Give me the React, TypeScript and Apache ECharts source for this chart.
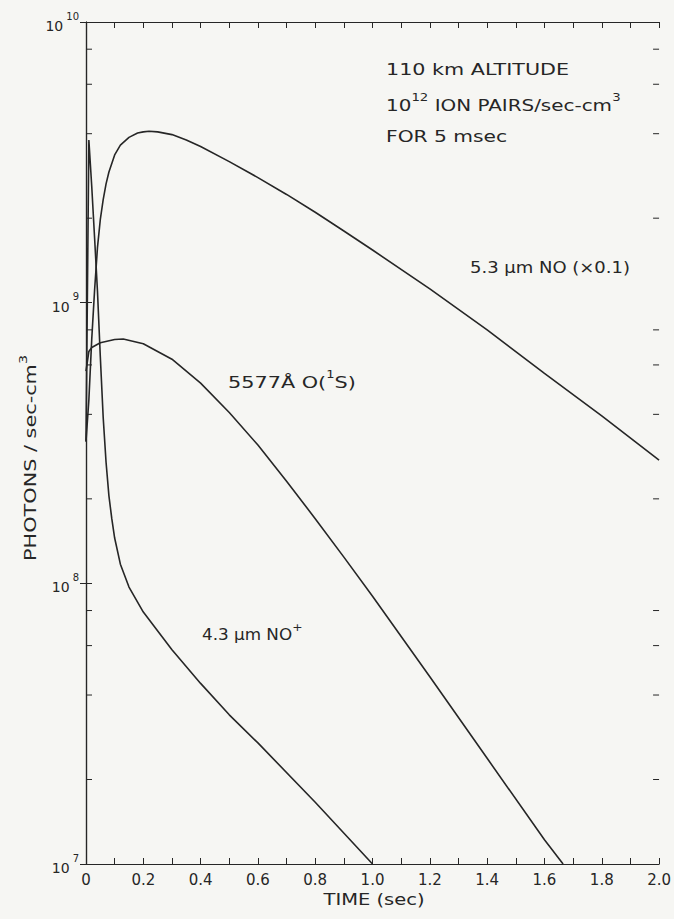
import React, { useEffect, useRef } from "react";
import * as echarts from "echarts";

// ---- data ----
const no53Time = [0, 0.01, 0.02, 0.03, 0.04, 0.05, 0.06, 0.07, 0.08, 0.1, 0.12, 0.15, 0.18, 0.2, 0.22, 0.25, 0.3, 0.35, 0.4, 0.5, 0.6, 0.7, 0.8, 0.9, 1.0, 1.2, 1.4, 1.6, 1.8, 2.0];
const no53Vals = [3.2e8, 4.5e8, 7.4e8, 1.11e9, 1.57e9, 1.98e9, 2.33e9, 2.65e9, 2.92e9, 3.36e9, 3.64e9, 3.88e9, 4.02e9, 4.06e9, 4.08e9, 4.06e9, 3.97e9, 3.8e9, 3.6e9, 3.18e9, 2.79e9, 2.43e9, 2.1e9, 1.8e9, 1.54e9, 1.12e9, 8.0e8, 5.6e8, 3.95e8, 2.75e8];

const o1sTime = [0, 0.01, 0.02, 0.05, 0.1, 0.13, 0.2, 0.3, 0.4, 0.5, 0.6, 0.7, 0.8, 0.9, 1.0, 1.2, 1.4, 1.6, 1.665];
const o1sVals = [5.7e8, 6.7e8, 6.92e8, 7.2e8, 7.39e8, 7.42e8, 7.14e8, 6.29e8, 5.17e8, 4.06e8, 3.11e8, 2.31e8, 1.7e8, 1.24e8, 9.0e7, 4.65e7, 2.38e7, 1.22e7, 1.0e7];

const nopTime = [0, 0.01, 0.02, 0.03, 0.04, 0.05, 0.06, 0.07, 0.08, 0.09, 0.1, 0.12, 0.15, 0.2, 0.3, 0.4, 0.5, 0.6, 0.8, 1.0];
const nopVals = [3.2e8, 3.8e9, 2.6e9, 1.7e9, 1.1e9, 6.4e8, 3.9e8, 2.7e8, 2.05e8, 1.7e8, 1.45e8, 1.17e8, 9.7e7, 7.9e7, 5.8e7, 4.4e7, 3.4e7, 2.7e7, 1.66e7, 1.0e7];

const minorTickVals = [2e7, 4e7, 6e7, 8e7, 2e8, 4e8, 6e8, 8e8, 2e9, 4e9, 6e9, 8e9];

const xMin = 0, xMax = 2, xInterval = 0.2;
const yMin = 1e7, yMax = 1e10;

const zip = (t: number[], v: number[]) => t.map((x, i) => [x, v[i]]);

const INK = "#262626";
const FONT = "DejaVu Sans";

function richText(fs: number, ss: number, lh: number) {
  return {
    b: { fontSize: fs, fontFamily: FONT, fill: INK, lineHeight: lh, verticalAlign: "bottom" },
    s: { fontSize: ss, fontFamily: FONT, fill: INK, lineHeight: lh, verticalAlign: "top" },
  };
}

export default function App() {
  const ref = useRef<HTMLDivElement>(null);
  useEffect(() => {
    document.body.style.margin = "0";
    const chart = echarts.init(ref.current!, null, { renderer: "svg" });
    const lineStyle = { color: INK, width: 1.6 };
    const tick = { show: true, inside: true, length: 6, lineStyle: { color: INK, width: 1 } };
    const yLabelFmt = (v: number) => `{b|10}{s|${Math.round(Math.log10(v))}}`;
    const rich = {
      b: { fontSize: 14, fontFamily: FONT, color: INK, lineHeight: 22, verticalAlign: "bottom" },
      s: { fontSize: 10, fontFamily: FONT, color: INK, lineHeight: 22, verticalAlign: "top", padding: [0, 0, 0, 3] },
    };
    const lineSeries = (t: number[], v: number[]) => ({
      type: "line", data: zip(t, v), showSymbol: false, smooth: false, lineStyle,
    });
    chart.setOption({
      animation: false,
      backgroundColor: "#f6f6f3",
      grid: { left: 86, top: 22, width: 575, height: 842 },
      xAxis: [
        {
          type: "value", min: xMin, max: xMax, interval: xInterval, position: "bottom",
          axisLine: { show: true, lineStyle: { color: INK, width: 1.2 } },
          axisTick: tick,
          minorTick: { show: true, splitNumber: 2, length: 6, lineStyle: { color: INK, width: 1 } },
          splitLine: { show: false },
          axisLabel: {
            color: INK, fontFamily: FONT, fontSize: 15, margin: 8,
            formatter: (v: number) => (v === 0 ? "0" : v.toFixed(1)),
          },
        },
        {
          type: "value", min: xMin, max: xMax, interval: xInterval, position: "top",
          axisLine: { show: true, lineStyle: { color: INK, width: 1.2 } },
          axisTick: tick,
          minorTick: { show: true, splitNumber: 2, length: 6, lineStyle: { color: INK, width: 1 } },
          splitLine: { show: false },
          axisLabel: { show: false },
        },
      ],
      yAxis: [
        {
          type: "log", logBase: 10, min: yMin, max: yMax, position: "left",
          axisLine: { show: true, lineStyle: { color: INK, width: 1.2 } },
          axisTick: tick,
          splitLine: { show: false },
          axisLabel: { formatter: yLabelFmt, rich, margin: 7 },
        },
        {
          type: "log", logBase: 10, min: yMin, max: yMax, position: "right",
          axisLine: { show: true, lineStyle: { color: INK, width: 1.2 } },
          axisTick: tick,
          splitLine: { show: false },
          axisLabel: { show: false },
        },
      ],
      series: [
        lineSeries(no53Time, no53Vals),
        lineSeries(o1sTime, o1sVals),
        lineSeries(nopTime, nopVals),
        {
          type: "custom",
          data: minorTickVals.map((v) => [0, v]),
          encode: { x: 0, y: 1 },
          silent: true,
          renderItem: (_p: any, api: any) => {
            const v = api.value(1);
            const l = api.coord([xMin, v]);
            const r = api.coord([xMax, v]);
            const st = { stroke: INK, lineWidth: 1 };
            return {
              type: "group",
              children: [
                { type: "line", shape: { x1: l[0], y1: l[1], x2: l[0] + 6, y2: l[1] }, style: st },
                { type: "line", shape: { x1: r[0] - 6, y1: r[1], x2: r[0], y2: r[1] }, style: st },
              ],
            };
          },
        },
      ],
      graphic: [
        {
          type: "text", x: 386, y: 70, scaleX: 1.38,
          style: { text: "110 km ALTITUDE", font: `15px '${FONT}'`, fill: INK, verticalAlign: "middle" },
        },
        {
          type: "text", x: 386, y: 103, scaleX: 1.33,
          style: {
            text: "{b|10}{s|12}{b| ION PAIRS/sec-cm}{s|3}",
            rich: richText(15, 10, 20),
            verticalAlign: "middle",
          },
        },
        {
          type: "text", x: 386, y: 137, scaleX: 1.35,
          style: { text: "FOR 5 msec", font: `15px '${FONT}'`, fill: INK, verticalAlign: "middle" },
        },
        {
          type: "text", x: 470, y: 268, scaleX: 1.2,
          style: { text: "5.3 µm NO (×0.1)", font: `15px '${FONT}'`, fill: INK, verticalAlign: "middle" },
        },
        {
          type: "text", x: 228, y: 380, scaleX: 1.3,
          style: { text: "{b|5577Å O(}{s|1}{b|S)}", rich: richText(16, 10, 20), verticalAlign: "middle" },
        },
        {
          type: "text", x: 202, y: 632, scaleX: 1.12,
          style: { text: "{b|4.3 µm NO}{s|+}", rich: richText(15, 11, 20), verticalAlign: "middle" },
        },
        {
          type: "text", x: 374, y: 900, scaleX: 1.3,
          style: { text: "TIME (sec)", font: `15px '${FONT}'`, fill: INK, align: "center", verticalAlign: "middle" },
        },
        {
          type: "text", x: 28, y: 458, rotation: Math.PI / 2, scaleX: 1.3,
          style: {
            text: "{b|PHOTONS / sec-cm}{s|3}",
            rich: richText(16, 11, 20),
            align: "center",
            verticalAlign: "middle",
          },
        },
      ],
    });
    return () => chart.dispose();
  }, []);
  return <div ref={ref} style={{ width: 674, height: 919 }} />;
}
